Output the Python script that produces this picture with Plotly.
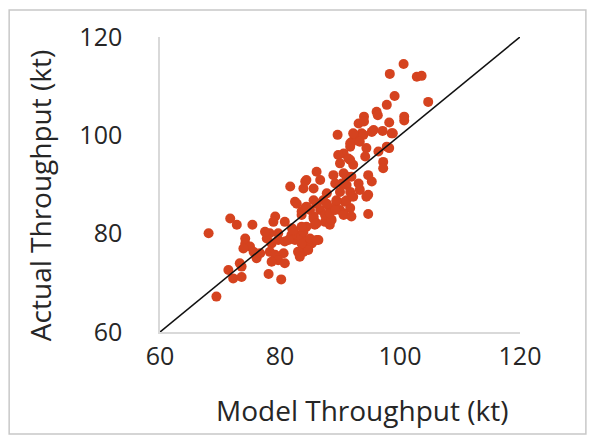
import plotly.graph_objects as go

model_throughput = [
    100.6, 98.3, 102.8, 103.6, 99.1, 104.7, 97.8, 96.1, 96.3, 94.0,
    93.1, 94.0, 98.2, 100.7, 100.7, 95.6, 97.1, 98.6, 93.6, 93.1,
    92.0, 91.7, 94.4, 94.2, 98.2, 97.8, 96.4, 97.2, 97.2, 90.6,
    91.7, 92.2, 94.7, 95.3, 91.1, 90.3, 93.3, 94.7, 94.7, 90.8,
    91.7, 90.6, 98.8, 89.6, 92.2, 93.9, 95.3, 91.7, 93.3, 89.7,
    91.4, 90.0, 86.1, 84.4, 86.7, 83.9, 85.6, 88.9, 90.6, 91.9,
    89.2, 91.1, 93.1, 87.8, 90.0, 91.7, 94.4, 85.6, 87.2, 89.4,
    91.1, 92.2, 85.0, 86.7, 88.3, 90.0, 83.6, 85.6, 87.8, 90.6,
    91.9, 84.4, 85.8, 87.5, 88.3, 83.6, 84.4, 85.3, 86.4, 83.9,
    84.7, 81.7, 84.2, 82.5, 83.6, 84.2, 71.7, 72.8, 75.4, 68.1,
    79.2, 78.9, 80.8, 82.0, 78.3, 79.7, 74.2, 74.2, 75.0, 73.9,
    75.6, 76.1, 76.7, 77.8, 78.6, 79.7, 80.8, 82.5, 83.6, 83.0,
    81.9, 78.3, 79.2, 80.6, 79.7, 78.6, 80.8, 83.0, 83.3, 71.4,
    73.6, 72.2, 73.6, 78.1, 80.2, 69.4, 77.5, 81.4, 83.9, 85.0,
    86.1, 87.5, 88.6, 73.3, 85.6, 86.1, 88.3, 89.2, 87.8, 89.4,
    86.1, 84.4, 82.8, 82.2, 83.6,
]
actual_throughput = [
    114.5, 112.5, 111.9, 112.1, 108.0, 106.8, 106.2, 104.8, 104.1, 103.8,
    102.4, 102.8, 102.6, 103.8, 103.0, 101.1, 100.9, 100.4, 100.4, 99.4,
    98.7, 97.7, 97.4, 95.7, 97.4, 97.7, 96.7, 94.6, 93.3, 96.3,
    95.0, 94.0, 91.9, 90.6, 91.6, 90.2, 88.9, 87.9, 84.0, 86.5,
    85.2, 84.1, 100.4, 100.1, 100.4, 100.1, 100.7, 98.4, 98.7, 96.0,
    95.3, 94.3, 92.6, 90.9, 90.9, 89.2, 89.2, 91.9, 92.3, 91.6,
    90.2, 89.9, 90.2, 88.2, 88.5, 88.5, 87.5, 86.8, 86.8, 86.5,
    86.8, 87.5, 84.8, 84.8, 85.2, 84.8, 83.8, 83.5, 83.5, 83.8,
    83.5, 81.4, 81.8, 82.4, 81.8, 79.4, 78.4, 78.0, 78.7, 76.3,
    76.7, 89.6, 90.6, 86.5, 84.5, 85.2, 83.1, 81.8, 81.8, 80.1,
    83.5, 82.4, 82.4, 81.1, 80.1, 80.1, 79.0, 78.0, 77.4, 77.0,
    76.3, 75.0, 76.0, 79.0, 78.0, 78.7, 78.4, 78.7, 78.0, 79.7,
    79.7, 76.3, 75.7, 76.0, 74.6, 74.3, 74.0, 76.3, 75.3, 72.6,
    73.3, 70.9, 71.2, 71.8, 70.7, 67.2, 80.4, 78.7, 80.4, 79.0,
    78.7, 83.8, 82.8, 74.0, 83.1, 82.1, 84.1, 84.8, 86.1, 86.8,
    86.1, 85.5, 86.1, 80.7, 81.4,
]
identity_line = [60, 120]
x_ticks = [60, 80, 100, 120]
y_ticks = [60, 80, 100, 120]
x_title = "Model Throughput (kt)"
y_title = "Actual Throughput (kt)"

font_family = "Open Sans, Lato, sans-serif"
text_color = "#262626"

fig = go.Figure()
fig.add_trace(go.Scatter(
    x=model_throughput, y=actual_throughput, mode="markers",
    marker=dict(color="#D5431F", size=10, line=dict(width=0)),
    showlegend=False, cliponaxis=False,
))
fig.add_trace(go.Scatter(
    x=identity_line, y=identity_line, mode="lines",
    line=dict(color="#111111", width=1.6), showlegend=False, cliponaxis=False,
))

fig.update_layout(
    width=579, height=427,
    margin=dict(l=152, r=67, t=29, b=103),
    paper_bgcolor="white", plot_bgcolor="white",
    font=dict(family=font_family, size=26, color=text_color),
    xaxis=dict(
        range=[60, 120], tickvals=x_ticks, ticktext=[str(v) for v in x_ticks],
        showgrid=False, zeroline=False, showline=True, linecolor="#d9d9d9", linewidth=1.5,
        ticks="outside", ticklen=1, tickcolor="rgba(0,0,0,0)", automargin=False,
        tickfont=dict(size=25),
    ),
    yaxis=dict(
        range=[60, 120], tickvals=y_ticks, ticktext=[str(v) for v in y_ticks],
        showgrid=False, zeroline=False, showline=True, linecolor="#d9d9d9", linewidth=1.5,
        ticks="outside", ticklen=31, tickcolor="rgba(0,0,0,0)", automargin=False,
        tickfont=dict(size=25),
    ),
    annotations=[
        dict(text=x_title, xref="paper", yref="paper", x=0.561, y=-0.264,
             xanchor="center", yanchor="middle", showarrow=False,
             font=dict(size=28, color=text_color)),
        dict(text=y_title, xref="paper", yref="paper", x=-0.333, y=0.461,
             xanchor="center", yanchor="middle", showarrow=False, textangle=-90,
             font=dict(size=28, color=text_color)),
    ],
    shapes=[dict(
        type="rect", xref="paper", yref="paper",
        x0=-0.419, x1=1.183, y0=-0.346, y1=1.0915,
        line=dict(color="#c8c8c8", width=1.5), fillcolor="rgba(0,0,0,0)", layer="below",
    )],
)

fig.write_html("out.html")
